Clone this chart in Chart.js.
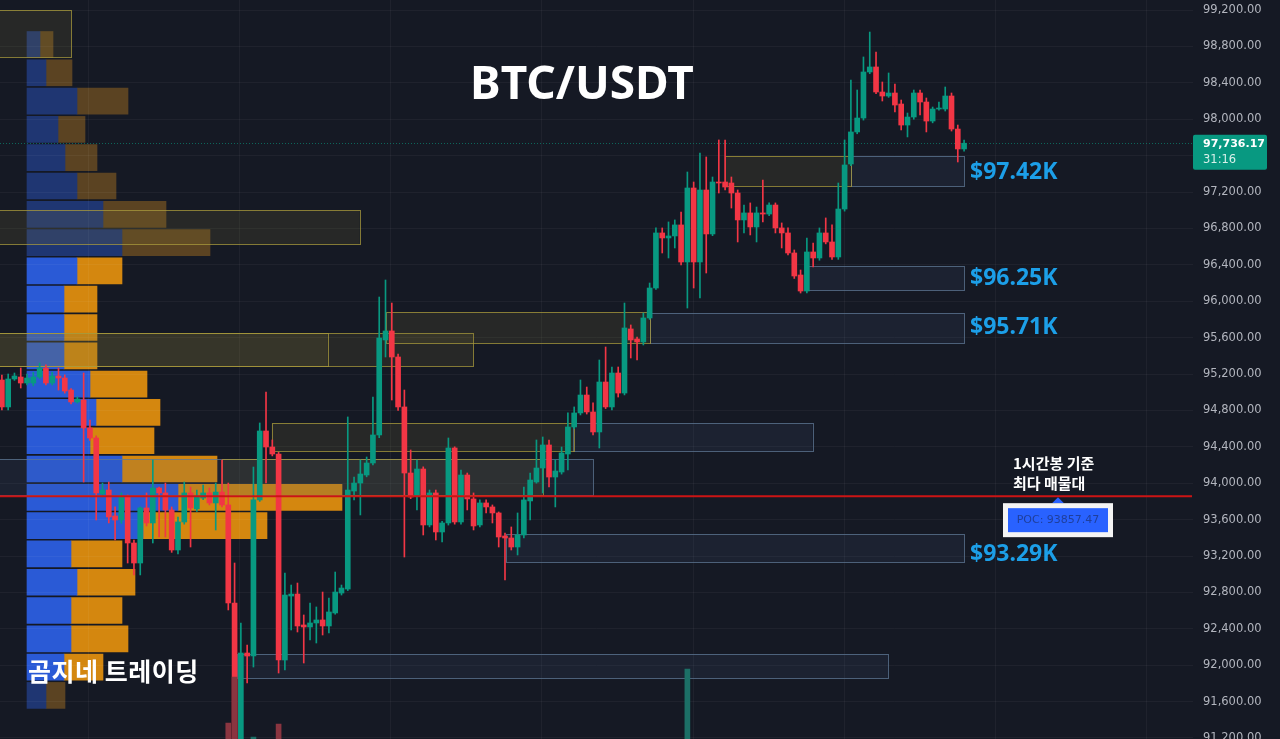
<!DOCTYPE html>
<html lang="ko">
<head>
<meta charset="utf-8">
<title>BTC/USDT</title>
<script src="https://cdn.jsdelivr.net/npm/chart.js@4.4.1/dist/chart.umd.min.js"></script>
<style>
    html, body { margin: 0; padding: 0; background: #151924; }
    #wrap { position: relative; width: 1280px; height: 739px; overflow: hidden; background: #151924; }
    #wrap canvas { position: absolute; left: 0; top: 0; }
</style>
</head>
<body>
<div id="wrap">
    <canvas id="profileChart" width="1193" height="739"></canvas>
    <canvas id="priceChart" width="1280" height="739"></canvas>
</div>
<script>
// 1h candles, [open, high, low, close]
const ohlc = [
    [95134, 95189, 94805, 94838], [94838, 95200, 94805, 95145], [95145, 95211, 95130, 95178], [95167, 95266, 95046, 95101],
    [95101, 95200, 95080, 95156], [95101, 95220, 95070, 95167], [95167, 95320, 95150, 95266], [95266, 95300, 95080, 95101],
    [95101, 95220, 95080, 95178], [95178, 95266, 95024, 95156], [95156, 95190, 94990, 95013], [95024, 95040, 94870, 94893],
    [94893, 94950, 94880, 94925], [94914, 95211, 94013, 94607], [94607, 94695, 94470, 94497], [94497, 94520, 93596, 93893],
    [93882, 94002, 93850, 93925], [93925, 94013, 93563, 93629], [93640, 93739, 93376, 93596], [93596, 93893, 93560, 93848],
    [93848, 93870, 93123, 93343], [93343, 93376, 92992, 93123], [93123, 93739, 92992, 93728], [93728, 93893, 93530, 93563],
    [93563, 94255, 93343, 93947], [93947, 93958, 93409, 93893], [93893, 94002, 93409, 93706], [93706, 93739, 93240, 93266],
    [93266, 93629, 93222, 93574], [93574, 94013, 93550, 93893], [93893, 93958, 93299, 93728], [93717, 93925, 93690, 93848],
    [93837, 93980, 93820, 93893], [93893, 93947, 93761, 93783], [93783, 94002, 93486, 93903], [93903, 94255, 93740, 93761],
    [93761, 94002, 92607, 92684], [92684, 93123, 90980, 91100], [91100, 92464, 90950, 92134], [92134, 92222, 91805, 92101],
    [92101, 94178, 91980, 93816], [93816, 94662, 93800, 94574], [94574, 95002, 94002, 94398], [94398, 94475, 94300, 94321],
    [94321, 94340, 91914, 92057], [92057, 93013, 91947, 92771], [92760, 92881, 92387, 92782], [92782, 92903, 92365, 92431],
    [92442, 92552, 92024, 92420], [92420, 92684, 92277, 92464], [92464, 92640, 92244, 92497], [92497, 92804, 92332, 92431],
    [92431, 92738, 92354, 92585], [92574, 93024, 92560, 92804], [92793, 92881, 92771, 92848], [92837, 94728, 92820, 93925],
    [93914, 94068, 93816, 94002], [94002, 94255, 93651, 94101], [94090, 94288, 94070, 94222], [94222, 94947, 94200, 94530],
    [94530, 96046, 94500, 95596], [95574, 96233, 95387, 95673], [95673, 95980, 94914, 95387], [95387, 95420, 94800, 94838],
    [94838, 95024, 93189, 94112], [94112, 94365, 93830, 93848], [93859, 94255, 93706, 94156], [94156, 94180, 93431, 93541],
    [93541, 93925, 93520, 93893], [93893, 93925, 93376, 93464], [93464, 93580, 93354, 93563], [93563, 94497, 93540, 94387],
    [94387, 94400, 93550, 93574], [93574, 94145, 93550, 94090], [94090, 94112, 93706, 93827], [93827, 93893, 93486, 93530],
    [93541, 93816, 93520, 93783], [93783, 93816, 93673, 93739], [93739, 93761, 93563, 93673], [93673, 93684, 93299, 93409],
    [93420, 93453, 92936, 93398], [93398, 93519, 93266, 93299], [93299, 93673, 93211, 93431], [93431, 93958, 93398, 93816],
    [93805, 94112, 93596, 94035], [94013, 94475, 94000, 94167], [94167, 94508, 93893, 94420], [94420, 94475, 93958, 94068],
    [94068, 94255, 93739, 94134], [94123, 94398, 94100, 94332], [94321, 94772, 94145, 94618], [94618, 94838, 94600, 94772],
    [94772, 95134, 94750, 94969], [94969, 95057, 94760, 94783], [94783, 94882, 94530, 94563], [94563, 95354, 94387, 95112],
    [95112, 95497, 94820, 94838], [94838, 95277, 94805, 95211], [95211, 95277, 94947, 94991], [94991, 95980, 94970, 95706],
    [95695, 95739, 95376, 95574], [95585, 95607, 95354, 95552], [95552, 95870, 95519, 95816], [95816, 96200, 95800, 96145],
    [96145, 96805, 96130, 96750], [96750, 96805, 96530, 96695], [96695, 96871, 96475, 96717], [96717, 96893, 96585, 96838],
    [96838, 96980, 96400, 96431], [96431, 97420, 95925, 97244], [97244, 97310, 96145, 96431], [96431, 97629, 96035, 97222],
    [97222, 97585, 96310, 96739], [96739, 97365, 96720, 97310], [97310, 97772, 97189, 97299], [97310, 97772, 97222, 97255],
    [97299, 97365, 97024, 97189], [97189, 97222, 96651, 96893], [96893, 97057, 96750, 96970], [96970, 97080, 96728, 96816],
    [96816, 97035, 96651, 96970], [96970, 97332, 96870, 96958], [96958, 97080, 96940, 97057], [97057, 97080, 96750, 96805],
    [96805, 96860, 96585, 96750], [96750, 96805, 96510, 96530], [96530, 96563, 96250, 96277], [96288, 96343, 96090, 96112],
    [96112, 96695, 96090, 96541], [96541, 96640, 96376, 96475], [96475, 96805, 96450, 96750], [96750, 96915, 96630, 96651],
    [96651, 96838, 96460, 96486], [96486, 97299, 96460, 97013], [97013, 97772, 96990, 97497], [97508, 98431, 97490, 97860],
    [97860, 98321, 97840, 98013], [98013, 98684, 97990, 98519], [98519, 98958, 98500, 98574], [98574, 98739, 98280, 98299],
    [98299, 98409, 98200, 98255], [98255, 98508, 98240, 98288], [98288, 98387, 98080, 98156], [98167, 98211, 97882, 97936],
    [97936, 98068, 97805, 98024], [98024, 98321, 98000, 98288], [98288, 98321, 98046, 98189], [98189, 98233, 97860, 97980],
    [97980, 98134, 97960, 98112], [98112, 98189, 98100, 98123], [98112, 98354, 98090, 98255], [98255, 98288, 97870, 97892],
    [97892, 97936, 97530, 97673], [97673, 97772, 97650, 97736]
];

// only the volume bars that reach into the price pane
const volumeIdx = [36, 37, 40, 44, 109];
const volumeVal = [3320, 4240, 3040, 3300, 4400];

// volume profile (1h), row centre price, buy / sell volume
const profileLevels = [98821, 98510, 98199, 97888, 97577, 97266, 96955, 96644, 96333, 96022, 95711, 95400,
                       95089, 94778, 94467, 94156, 93845, 93534, 93223, 92912, 92601, 92290, 91979, 91668];
const profileBuy  = [13, 19, 50, 31, 38, 50, 76, 95, 50, 37, 37, 37, 63, 69, 63, 95, 151, 116, 44, 50, 44, 44, 37, 19];
const profileSell = [13, 26, 51, 27, 32, 39, 63, 88, 45, 33, 33, 33, 57, 64, 64, 95, 164, 124, 51, 58, 51, 57, 39, 19];
const valueAreaHigh = 96480;
const valueAreaLow = 91820;
const pocPrice = 93857.47;
const lastPrice = 97736.17;

// price axis
const priceTicks = [91200, 91600, 92000, 92400, 92800, 93200, 93600, 94000, 94400, 94800, 95200,
                    95600, 96000, 96400, 96800, 97200, 97600, 98000, 98400, 98800, 99200];

// zones: type, from candle, to candle, top price, bottom price
const zones = [
    ['b', 135.0, 153.0, 97596, 97266],
    ['b', 128.0, 153.0, 96387, 96123],
    ['b', 103.0, 153.0, 95870, 95541],
    ['b', -1, 94.0, 94266, 93868],
    ['b', 90.8, 128.9, 94662, 94354],
    ['b', 80.1, 153.0, 93442, 93134],
    ['b', 37.4, 140.9, 92123, 91859],
    ['y', -1, 11.0, 99200, 98684],
    ['y', -1, 56.9, 97002, 96629],
    ['y', -1, 74.9, 95651, 95288],
    ['y', -1, 51.8, 95651, 95288],
    ['y', 61.1, 103.0, 95881, 95541],
    ['y', 42.9, 90.9, 94662, 94354],
    ['y', 35.0, 86.0, 94266, 93868],
    ['y', 115.0, 135.0, 97596, 97266]
];
const zoneLabels = ['$97.42K', '$96.25K', '$95.71K', '$93.29K'];
const zoneLabelPrices = [97420, 96250, 95710, 93215];

// day separators (candle index)
const dayLines = [13.7, 37.75, 61.8, 85.85, 109.9, 133.95, 157.95, 182];

const upColor = '#089981';
const downColor = '#f23645';
const gridColor = 'rgba(255,255,255,0.045)';
const priceMin = 91189, priceMax = 99310;

const candleColors = ohlc.map(c => c[3] >= c[0] ? upColor : downColor);

function fmtPrice(v) {
    return v.toLocaleString('en-US', { minimumFractionDigits: 2, maximumFractionDigits: 2 });
}

// zones and the dotted last price line, under the candles
const zonesPlugin = {
    id: 'zones',
    beforeDatasetsDraw(chart) {
        const ctx = chart.ctx, x = chart.scales.x, y = chart.scales.y, area = chart.chartArea;
        ctx.save();
        ctx.beginPath();
        ctx.rect(area.left, area.top, area.right - area.left, area.bottom - area.top);
        ctx.clip();
        zones.forEach(z => {
            const x0 = x.getPixelForValue(z[1]), x1 = x.getPixelForValue(z[2]);
            const y0 = y.getPixelForValue(z[3]), y1 = y.getPixelForValue(z[4]);
            if (z[0] === 'y') {
                ctx.fillStyle = 'rgba(135,125,55,0.16)';
                ctx.strokeStyle = 'rgba(170,155,60,0.75)';
            } else {
                ctx.fillStyle = 'rgba(70,95,135,0.14)';
                ctx.strokeStyle = 'rgba(95,120,150,0.75)';
            }
            ctx.fillRect(x0, y0, x1 - x0, y1 - y0);
            ctx.lineWidth = 1;
            ctx.strokeRect(Math.round(x0) + 0.5, Math.round(y0) + 0.5, Math.round(x1 - x0), Math.round(y1 - y0));
        });
        // last price
        const ly = Math.round(y.getPixelForValue(lastPrice)) + 0.5;
        ctx.setLineDash([1, 2]);
        ctx.strokeStyle = 'rgba(8,153,129,0.6)';
        ctx.beginPath();
        ctx.moveTo(area.left, ly);
        ctx.lineTo(area.right, ly);
        ctx.stroke();
        ctx.restore();
    }
};

// POC line, labels and texts on top
const overlayPlugin = {
    id: 'overlay',
    afterDatasetsDraw(chart) {
        const ctx = chart.ctx, y = chart.scales.y, area = chart.chartArea;
        const py = y.getPixelForValue(pocPrice);
        ctx.save();
        ctx.strokeStyle = '#cc1414';
        ctx.lineWidth = 2;
        ctx.beginPath();
        ctx.moveTo(area.left, py);
        ctx.lineTo(area.right - 1, py);
        ctx.stroke();

        // POC tag
        const cx = 1058;
        ctx.fillStyle = '#2962ff';
        ctx.beginPath();
        ctx.moveTo(cx, py + 1);
        ctx.lineTo(cx - 6, py + 7);
        ctx.lineTo(cx + 6, py + 7);
        ctx.closePath();
        ctx.fill();
        ctx.fillStyle = '#f4f4f4';
        ctx.fillRect(1003, py + 7, 110, 34);
        ctx.fillStyle = '#2962ff';
        ctx.fillRect(1008, py + 12, 100, 24);
        ctx.fillStyle = '#1f3f9c';
        ctx.font = '11px "DejaVu Sans"';
        ctx.textAlign = 'center';
        ctx.textBaseline = 'middle';
        ctx.fillText('POC: ' + pocPrice.toFixed(2), cx, py + 24);

        ctx.fillStyle = '#ffffff';
        ctx.textAlign = 'left';
        ctx.font = 'bold 15px "Noto Sans CJK KR"';
        ctx.fillText('1시간봉 기준', 1013, py - 33);
        ctx.fillText('최다 매물대', 1013, py - 13);

        // zone prices
        ctx.fillStyle = '#1c9fe8';
        ctx.font = 'bold 23px "Noto Sans"';
        zoneLabels.forEach((t, k) => {
            ctx.fillText(t, 970, y.getPixelForValue(zoneLabelPrices[k]));
        });

        ctx.fillStyle = '#ffffff';
        ctx.font = 'bold 46px "Noto Sans"';
        ctx.textAlign = 'center';
        ctx.fillText('BTC/USDT', 582, 86);

        ctx.textAlign = 'left';
        ctx.font = 'bold 25px "Noto Sans CJK KR"';
        ctx.letterSpacing = '0.5px';
        ctx.fillText('곰지네 트레이딩', 28, 671);
        ctx.restore();
    },
    afterDraw(chart) {
        const ctx = chart.ctx, y = chart.scales.y, area = chart.chartArea;
        const ly = y.getPixelForValue(lastPrice);
        ctx.save();
        ctx.fillStyle = upColor;
        ctx.beginPath();
        ctx.roundRect(area.right, ly - 8.5, 74, 35, 2);
        ctx.fill();
        ctx.fillStyle = '#ffffff';
        ctx.textBaseline = 'middle';
        ctx.textAlign = 'left';
        ctx.font = 'bold 11px "DejaVu Sans"';
        ctx.fillText(fmtPrice(lastPrice), area.right + 10, ly + 0.5);
        ctx.font = '11.5px "DejaVu Sans"';
        ctx.fillStyle = '#d8f0ea';
        ctx.fillText('31:16', area.right + 10, ly + 17);
        ctx.restore();
    }
};

// volume profile, drawn under the price chart
new Chart(document.getElementById('profileChart'), {
    type: 'bar',
    data: {
        datasets: [{
            label: 'buy',
            data: profileLevels.map((p, k) => ({ x: profileBuy[k], y: p })),
            backgroundColor: profileLevels.map(p => (p <= valueAreaHigh && p >= valueAreaLow) ? '#2a5ad6' : '#1f3672'),
            barThickness: 26,
            borderWidth: 0
        }, {
            label: 'sell',
            data: profileLevels.map((p, k) => ({ x: profileSell[k], y: p })),
            backgroundColor: profileLevels.map(p => (p <= valueAreaHigh && p >= valueAreaLow) ? '#d4870f' : '#5b4322'),
            barThickness: 26,
            borderWidth: 0
        }]
    },
    options: {
        indexAxis: 'y',
        responsive: false,
        animation: false,
        layout: { padding: 0 },
        plugins: { legend: { display: false }, tooltip: { enabled: false } },
        scales: {
            x: { type: 'linear', display: false, stacked: true, min: -27, max: 1166 },
            y: { type: 'linear', display: false, stacked: true, offset: false, min: priceMin, max: priceMax }
        }
    }
});

new Chart(document.getElementById('priceChart'), {
    type: 'bar',
    data: {
        datasets: [{
            label: 'volume',
            yAxisID: 'yv',
            data: volumeIdx.map((i, k) => ({ x: i, y: volumeVal[k] })),
            backgroundColor: volumeIdx.map(i => candleColors[i] === upColor ? '#1c6f66' : '#8a3540'),
            barThickness: 5,
            grouped: false,
            order: 0
        }, {
            label: 'body',
            data: ohlc.map((c, i) => ({ x: i, y: [c[0], c[3]] })),
            backgroundColor: candleColors,
            barThickness: 5,
            minBarLength: 1,
            grouped: false,
            order: 1
        }, {
            label: 'wick',
            data: ohlc.map((c, i) => ({ x: i, y: [c[2], c[1]] })),
            backgroundColor: candleColors,
            barThickness: 1,
            grouped: false,
            order: 2
        }]
    },
    options: {
        responsive: false,
        animation: false,
        layout: { padding: 0 },
        plugins: { legend: { display: false }, tooltip: { enabled: false } },
        scales: {
            x: {
                type: 'linear',
                min: -0.3,
                max: 189.4,
                offset: false,
                grid: { offset: false, color: gridColor, drawTicks: false },
                border: { display: false },
                ticks: { display: false },
                afterBuildTicks: s => { s.ticks = dayLines.map(v => ({ value: v })); },
                afterFit: s => { s.height = 0; s.paddingLeft = 0; s.paddingRight = 0; }
            },
            y: {
                position: 'right',
                min: priceMin,
                max: priceMax,
                grid: { color: gridColor, drawTicks: false },
                border: { display: false },
                ticks: {
                    padding: 10,
                    color: '#b2b5be',
                    font: { family: 'DejaVu Sans', size: 11.5 },
                    callback: v => fmtPrice(v)
                },
                afterBuildTicks: s => { s.ticks = priceTicks.map(v => ({ value: v })); },
                afterFit: s => { s.width = 87; s.paddingTop = 0; s.paddingBottom = 0; }
            },
            yv: { display: false, min: 3000, max: 17780 }
        }
    },
    plugins: [zonesPlugin, overlayPlugin]
});
</script>
</body>
</html>
